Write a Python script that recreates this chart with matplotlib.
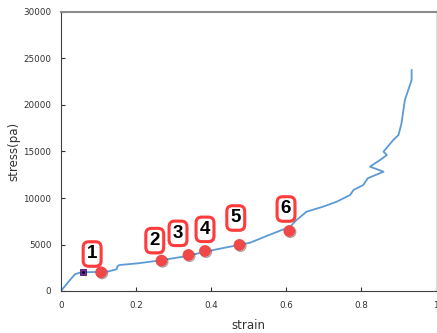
import matplotlib
matplotlib.use("Agg")
import matplotlib.pyplot as plt
import matplotlib.patheffects as pe

# stress-strain curve
strain = [0, 0.012, 0.024, 0.037, 0.053, 0.073, 0.10, 0.126, 0.148, 0.151, 0.157,
          0.206, 0.259, 0.326, 0.415, 0.504, 0.548, 0.611, 0.628, 0.655, 0.699,
          0.735, 0.771, 0.78, 0.806, 0.818, 0.86, 0.824, 0.851, 0.869, 0.86,
          0.886, 0.9, 0.908, 0.917, 0.926, 0.935, 0.935]
stress = [0, 600, 1180, 1800, 2010, 2030, 2050, 2100, 2330, 2690, 2800,
          2980, 3260, 3690, 4480, 5190, 5910, 6910, 7630, 8530, 9070,
          9600, 10320, 10860, 11400, 12120, 12830, 13370, 14090, 14620, 14980,
          16240, 16770, 18030, 20540, 21610, 22690, 23760]

# marked points 1..6
pt_labels = ["1", "2", "3", "4", "5", "6"]
pt_strain = [0.107, 0.268, 0.34, 0.384, 0.476, 0.609]
pt_stress = [2010, 3260, 3870, 4300, 4950, 6450]
box_strain = [0.083, 0.250, 0.312, 0.384, 0.466, 0.600]
box_stress = [3980, 5420, 6200, 6630, 7850, 8820]

# yield point (square)
sq_strain = [0.0595]
sq_stress = [2010]

fig = plt.figure(figsize=(4.37, 3.33), dpi=100)
ax = fig.add_axes([61 / 437, 42 / 333, 375 / 437, 279 / 333])

ax.plot(strain, stress, color="#5B9BD5", lw=1.3, zorder=2)
ax.plot(sq_strain, sq_stress, "s", ms=5, color="#7030A0", mec="#3B1460", mew=0.6, zorder=3)
ax.plot(sq_strain, sq_stress, ".", ms=2, color="black", zorder=4)
ax.plot(pt_strain, pt_stress, "o", ms=7.5, color="#F04848", zorder=4,
        path_effects=[pe.SimpleLineShadow(offset=(0.8, -0.8), alpha=0.35), pe.Normal()])

for lab, bx, by in zip(pt_labels, box_strain, box_stress):
    t = ax.text(bx, by, lab, ha="center", va="center", fontsize=13.5, fontweight="bold",
                family="Liberation Sans", color="black", zorder=5,
                bbox=dict(boxstyle="round,pad=0.2,rounding_size=0.3", fc="white",
                          ec="#FF3B3B", lw=2.2))
    t.get_bbox_patch().set_path_effects([pe.withSimplePatchShadow(offset=(1, -1), alpha=0.35)])

ax.set_xlim(0, 1)
ax.set_ylim(0, 30000)
ax.set_xticks([0, 0.2, 0.4, 0.6, 0.8, 1])
ax.set_xticklabels(["0", "0.2", "0.4", "0.6", "0.8", "1"])
ax.set_yticks(range(0, 30001, 5000))
ax.tick_params(direction="in", length=3, labelsize=6.3, colors="#333333", pad=7)

ax.spines["top"].set_color("#8C8C8C")
ax.spines["top"].set_linewidth(1.5)
ax.spines["right"].set_color("#E0E0E0")
ax.spines["left"].set_color("#404040")
ax.spines["bottom"].set_color("#404040")

ax.set_xlabel("strain", fontsize=8.5, color="#333333", labelpad=7)
ax.set_ylabel("stress(pa)", fontsize=8.5, color="#333333", labelpad=2)

fig.savefig("out.png", dpi=100)
